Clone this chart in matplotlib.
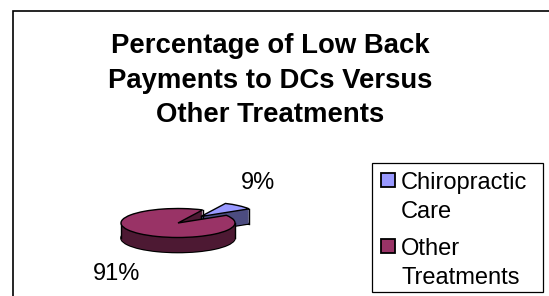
import numpy as np
import matplotlib.pyplot as plt
from matplotlib.patches import Rectangle

# data
title_lines = ["Percentage of Low Back", "Payments to DCs Versus", "Other Treatments"]
categories = ["Chiropractic\nCare", "Other\nTreatments"]
values = [9, 91]
top_colors = ["#9999FF", "#993366"]
side_colors = ["#4C4C80", "#4D1933"]
explode = [0.6, 0]
start_angle = 32

W, H = 549, 296
plt.rcParams["font.family"] = ["Liberation Sans", "DejaVu Sans"]
fig = plt.figure(figsize=(W / 100, H / 100), dpi=100)


def fx(px):
    return px / W


def fy(py):
    return 1 - py / H


# outer chart border (runs off the right and bottom edge)
fig.add_artist(Rectangle((fx(13), -0.1), 1.2, fy(11) + 0.1, transform=fig.transFigure,
                         fill=False, edgecolor="black", lw=1.2))

# title
for line, base in zip(title_lines, [53, 88, 122]):
    fig.text(fx(270), fy(base), line, ha="center", va="baseline",
             fontsize=19.8, fontweight="bold")

# 3D pie: flattened axes, stacked pies for depth
cx, cy = 178, 223      # pixel centre of top face
rx, ry = 57, 14.5      # pixel radii
depth = 15 / ry
ax_l, ax_r, ax_t, ax_b = 90, 290, 180, 275
ax = fig.add_axes([fx(ax_l), fy(ax_b), (ax_r - ax_l) / W, (ax_b - ax_t) / H])

kw = dict(startangle=start_angle, explode=explode, counterclock=True)
ax.pie(values, colors=side_colors, center=(0, -depth),
       wedgeprops=dict(edgecolor="black", linewidth=1.2), **kw)
for d in np.linspace(depth, 0, 40, endpoint=False)[1:]:
    ax.pie(values, colors=side_colors, center=(0, -d),
           wedgeprops=dict(linewidth=0), **kw)

# vertical edges of the visible sides
bounds = start_angle + 360 * np.cumsum([0] + values) / sum(values)
rad = np.deg2rad(bounds)
mid = np.deg2rad((bounds[0] + bounds[1]) / 2)
ex, ey = explode[0] * np.cos(mid), explode[0] * np.sin(mid)
edge_x = [-1, 1, np.cos(rad[1]), ex, ex + np.cos(rad[0])]
edge_y = [0, 0, np.sin(rad[1]), ey, ey + np.sin(rad[0])]
for x0, y0 in zip(edge_x, edge_y):
    ax.plot([x0, x0], [y0, y0 - depth], color="black", lw=1, zorder=1)

ax.pie(values, colors=top_colors, center=(0, 0),
       wedgeprops=dict(edgecolor="black", linewidth=1, zorder=1.5), **kw)
ax.set_aspect("auto")
ax.set_xlim((ax_l - cx) / rx, (ax_r - cx) / rx)
ax.set_ylim((cy - ax_b) / ry, (cy - ax_t) / ry)
ax.axis("off")

# percentage labels
for v, (px, py) in zip(values, [(258, 189), (117, 280)]):
    fig.text(fx(px), fy(py), f"{v}%", ha="center", va="baseline", fontsize=17)

# legend
fig.add_artist(Rectangle((fx(372), fy(292)), (543 - 372) / W, (292 - 163) / H,
                         transform=fig.transFigure, fill=False,
                         edgecolor="black", lw=0.9))
for cat, col, base in zip(categories, top_colors, [189, 255]):
    fig.add_artist(Rectangle((fx(381), fy(base - 2)), 14 / W, 14 / H,
                             transform=fig.transFigure, facecolor=col,
                             edgecolor="black", lw=1.3))
    for i, part in enumerate(cat.split("\n")):
        fig.text(fx(401), fy(base + 29 * i), part, va="baseline", fontsize=17)

fig.savefig("out.png", dpi=100)
